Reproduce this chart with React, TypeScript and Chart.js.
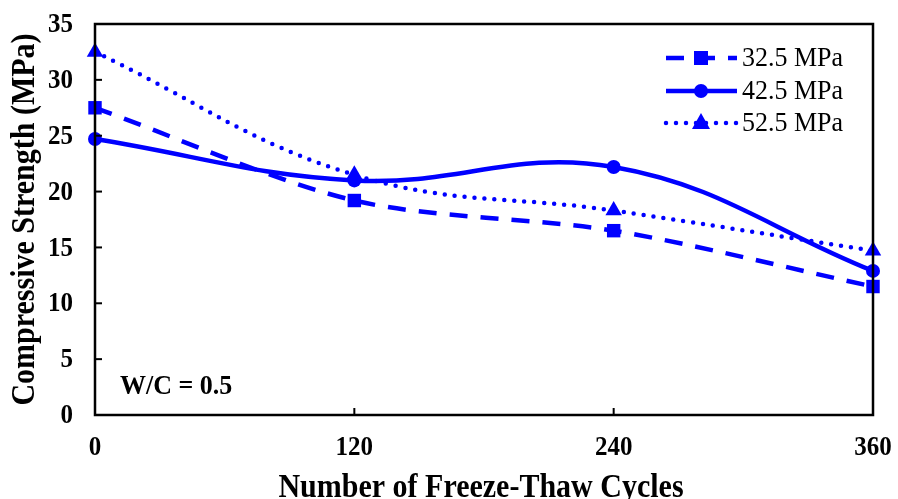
import React, { useEffect, useRef } from "react";
import { Chart, registerables } from "chart.js";

Chart.register(...registerables);

const cycles = [0, 120, 240, 360];
const s325 = [27.5, 19.2, 16.5, 11.5];
const s425 = [24.7, 21.0, 22.2, 12.9];
const s525 = [32.5, 21.5, 18.3, 14.7];
const seriesLabels = ["32.5 MPa", "42.5 MPa", "52.5 MPa"];
const xTitle = "Number of Freeze-Thaw Cycles";
const yTitle = "Compressive Strength (MPa)";
const note = "W/C = 0.5";

const BLUE = "#0000ff";
const SERIF = "'Liberation Serif', 'Times New Roman', serif";

const toPts = (vals: number[]) => vals.map((v, i) => ({ x: cycles[i], y: v }));

function stretchText(ctx: CanvasRenderingContext2D, text: string, x: number, y: number, sy: number, rot = 0) {
  ctx.save();
  ctx.translate(x, y);
  if (rot) ctx.rotate(rot);
  ctx.scale(1, sy);
  ctx.fillText(text, 0, 0);
  ctx.restore();
}

const decorPlugin = {
  id: "decor",
  afterDraw(chart: any) {
    const ctx = chart.ctx as CanvasRenderingContext2D;
    const a = chart.chartArea;
    const xs = chart.scales.x;
    const ys = chart.scales.y;
    ctx.save();
    // border box
    ctx.strokeStyle = "#000";
    ctx.lineWidth = 2.5;
    ctx.strokeRect(a.left, a.top, a.right - a.left, a.bottom - a.top);
    // inward ticks + tick labels
    ctx.lineWidth = 2;
    ctx.fillStyle = "#000";
    ctx.font = `bold 25px ${SERIF}`;
    ctx.textBaseline = "middle";
    ys.ticks.forEach((t: any) => {
      const y = ys.getPixelForValue(t.value);
      ctx.beginPath();
      ctx.moveTo(a.left, y);
      ctx.lineTo(a.left + 7, y);
      ctx.stroke();
      ctx.textAlign = "right";
      stretchText(ctx, String(t.value), a.left - 22, y + 1, 1.1);
    });
    xs.ticks.forEach((t: any) => {
      const x = xs.getPixelForValue(t.value);
      ctx.beginPath();
      ctx.moveTo(x, a.bottom);
      ctx.lineTo(x, a.bottom - 7);
      ctx.stroke();
      ctx.textAlign = "center";
      stretchText(ctx, String(t.value), x, 448, 1.1);
    });
    // titles
    ctx.font = `bold 30px ${SERIF}`;
    ctx.textAlign = "center";
    ctx.textBaseline = "middle";
    stretchText(ctx, xTitle, (a.left + a.right) / 2 - 3, 488, 1.1);
    ctx.save();
    ctx.translate(25, (a.top + a.bottom) / 2);
    ctx.rotate(-Math.PI / 2);
    ctx.scale(1, 1.1);
    ctx.fillText(yTitle, 0, 0);
    ctx.restore();
    // note
    ctx.font = `bold 26px ${SERIF}`;
    ctx.textAlign = "left";
    stretchText(ctx, note, 120, 387, 1.05);
    // legend
    const rows = [58, 91, 123];
    const ds = chart.data.datasets;
    ctx.font = `26px ${SERIF}`;
    rows.forEach((ry, i) => {
      const d = ds[i];
      ctx.save();
      ctx.strokeStyle = BLUE;
      ctx.lineWidth = d.borderWidth;
      ctx.lineCap = d.borderCapStyle || "butt";
      ctx.setLineDash(d.borderDash || []);
      ctx.beginPath();
      ctx.moveTo(666, ry);
      ctx.lineTo(737, ry);
      ctx.stroke();
      ctx.setLineDash([]);
      ctx.fillStyle = BLUE;
      ctx.beginPath();
      const cx = 701;
      if (d.pointStyle === "rect") {
        ctx.fillRect(cx - 7, ry - 7, 14, 14);
      } else if (d.pointStyle === "circle") {
        ctx.arc(cx, ry, 7, 0, Math.PI * 2);
        ctx.fill();
      } else {
        ctx.moveTo(cx, ry - 10);
        ctx.lineTo(cx + 9, ry + 6);
        ctx.lineTo(cx - 9, ry + 6);
        ctx.closePath();
        ctx.fill();
      }
      ctx.restore();
      ctx.fillStyle = "#000";
      ctx.textAlign = "left";
      stretchText(ctx, seriesLabels[i], 742, ry + 1, 1.05);
    });
    ctx.restore();
  },
};

export default function App() {
  const ref = useRef<HTMLCanvasElement>(null);
  useEffect(() => {
    if (!ref.current) return;
    const chart = new Chart(ref.current, {
      type: "line",
      data: {
        datasets: [
          {
            label: seriesLabels[0],
            data: toPts(s325),
            borderColor: BLUE,
            backgroundColor: BLUE,
            borderWidth: 4.5,
            borderDash: [18, 13],
            pointStyle: "rect",
            pointRadius: 9.5,
            pointBorderWidth: 0,
            tension: 0.3,
            clip: false,
          } as any,
          {
            label: seriesLabels[1],
            data: toPts(s425),
            borderColor: BLUE,
            backgroundColor: BLUE,
            borderWidth: 4.5,
            pointStyle: "circle",
            pointRadius: 7,
            pointBorderWidth: 0,
            tension: 0.4,
            clip: false,
          },
          {
            label: seriesLabels[2],
            data: toPts(s525),
            borderColor: BLUE,
            backgroundColor: BLUE,
            borderWidth: 4.5,
            borderDash: [0, 10],
            borderCapStyle: "round",
            pointStyle: "triangle",
            pointRadius: 9.5,
            pointBorderWidth: 0,
            tension: 0.4,
            clip: false,
          } as any,
        ],
      },
      options: {
        animation: false,
        responsive: false,
        devicePixelRatio: 1,
        layout: { autoPadding: false, padding: { top: 24, right: 25, left: 0, bottom: 0 } },
        plugins: { legend: { display: false }, tooltip: { enabled: false } },
        scales: {
          x: {
            type: "linear",
            min: 0,
            max: 360,
            grid: { display: false, drawTicks: false },
            border: { display: false },
            ticks: { stepSize: 120, display: false },
            afterFit: (s: any) => {
              s.height = 84;
            },
          },
          y: {
            min: 0,
            max: 35,
            grid: { display: false, drawTicks: false },
            border: { display: false },
            ticks: { stepSize: 5, display: false },
            afterFit: (s: any) => {
              s.width = 95;
            },
          },
        },
      } as any,
      plugins: [decorPlugin],
    });
    return () => chart.destroy();
  }, []);
  return (
    <div style={{ position: "fixed", left: 0, top: 0, width: 898, height: 499, background: "#fff" }}>
      <canvas ref={ref} width={898} height={499} style={{ display: "block" }} />
    </div>
  );
}
